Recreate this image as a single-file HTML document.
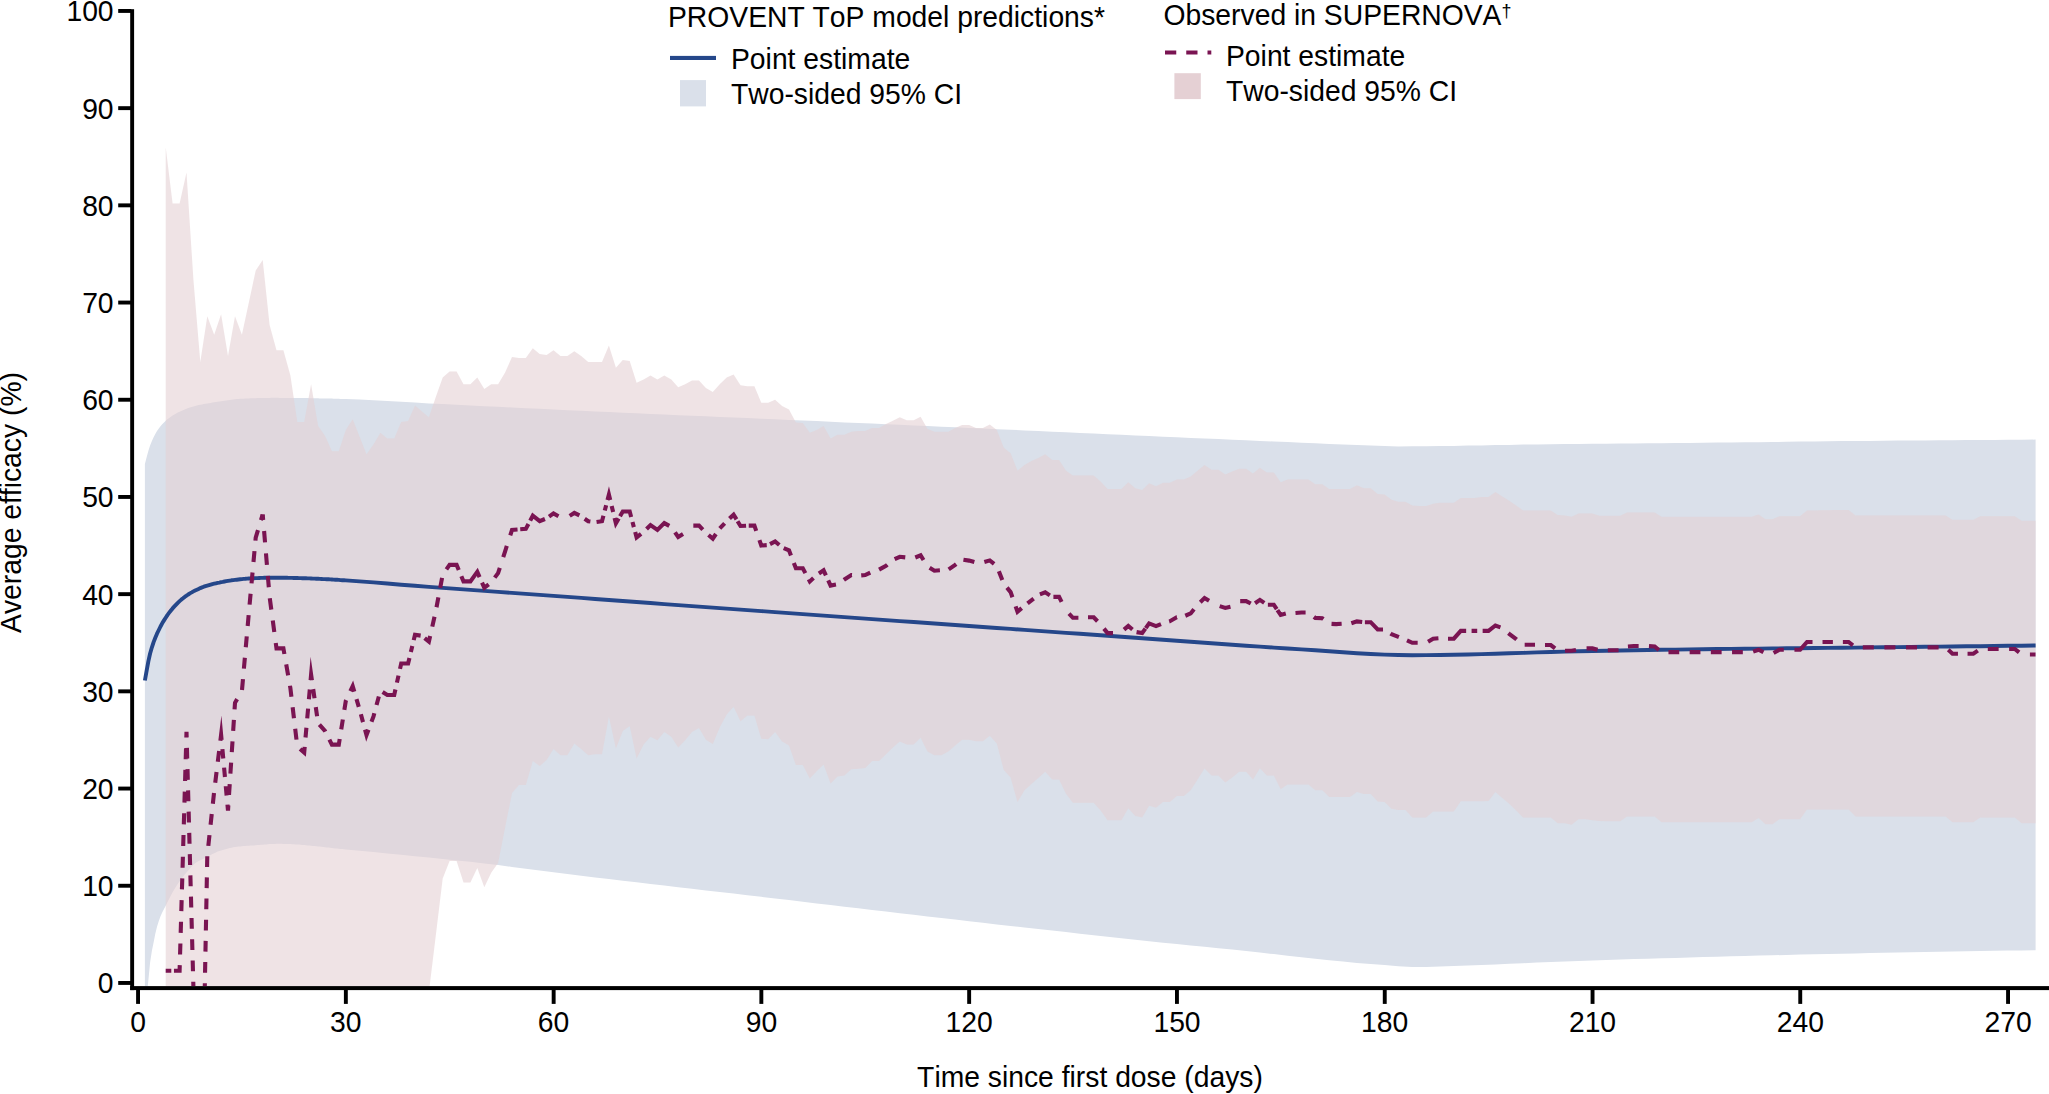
<!DOCTYPE html>
<html><head><meta charset="utf-8"><title>Average efficacy over time</title>
<style>
html,body{margin:0;padding:0;background:#fff}
svg{display:block}
text{font-kerning:none;font-family:"Liberation Sans",sans-serif;font-size:28.3px;fill:#000}
</style></head><body>
<svg width="2049" height="1094" viewBox="0 0 2049 1094">
<defs><clipPath id="plot"><rect x="134.1" y="0" width="1914.9" height="986.1"/></clipPath></defs>
<rect width="2049" height="1094" fill="#fff"/>
<g clip-path="url(#plot)">
<polygon points="144.9,463.9 146.7,456.9 148.4,450.7 150.1,445.4 151.9,441.1 153.6,437.2 155.3,433.9 157,431 158.8,428.4 160.5,426.2 162.2,424.2 164,422.4 165.7,420.8 167.4,419.3 169.2,418 170.9,416.8 172.6,415.6 174.4,414.5 176.1,413.5 177.8,412.6 179.6,411.8 181.3,411 183,410.2 184.7,409.5 186.5,408.8 188.2,408.1 189.9,407.5 191.7,407 193.4,406.4 195.1,406 196.9,405.5 198.6,405.1 200.3,404.7 202.1,404.4 203.8,404.1 205.5,403.7 207.3,403.4 209,403.2 210.7,402.9 212.4,402.6 214.2,402.3 215.9,402.1 217.6,401.8 219.4,401.6 221.1,401.3 222.8,401 224.6,400.7 226.3,400.5 228,400.2 229.8,399.9 231.5,399.7 233.2,399.5 235,399.3 236.7,399.1 238.4,398.9 240.2,398.8 241.9,398.7 243.6,398.7 245.3,398.6 247.1,398.5 248.8,398.4 250.5,398.3 252.3,398.3 254,398.2 255.7,398.2 257.5,398.1 259.2,398 260.9,398 262.7,398 264.4,397.9 266.1,397.9 267.9,397.9 269.6,397.9 271.3,397.8 273,397.8 274.8,397.8 276.5,397.8 278.2,397.8 280,397.9 281.7,397.9 283.4,397.9 285.2,397.9 286.9,397.9 288.6,397.9 290.4,397.9 292.1,398 293.8,398 295.6,398 297.3,398 299,398 300.7,398.1 302.5,398.1 304.2,398.1 305.9,398.1 307.7,398.1 309.4,398.2 311.1,398.2 312.9,398.2 314.6,398.3 316.3,398.3 318.1,398.3 319.8,398.4 321.5,398.4 323.3,398.4 325,398.5 326.7,398.5 328.5,398.6 330.2,398.6 331.9,398.6 333.6,398.7 335.4,398.7 337.1,398.8 338.8,398.8 340.6,398.9 342.3,398.9 344,399 345.8,399 359.6,399.5 373.5,400.2 387.3,400.9 401.2,401.8 415,402.6 428.9,403.4 442.7,404.1 456.6,404.8 470.4,405.5 484.3,406.2 498.1,406.8 512,407.5 525.8,408.2 539.7,408.8 553.5,409.5 567.4,410.2 581.2,410.8 595.1,411.4 608.9,412.1 622.8,412.7 636.6,413.3 650.5,413.9 664.3,414.5 678.2,415.2 692,415.8 705.9,416.3 719.7,416.9 733.6,417.5 747.4,418.1 761.3,418.7 775.1,419.3 789,419.9 802.8,420.5 816.7,421.1 830.6,421.8 844.4,422.4 858.3,423 872.1,423.6 886,424.2 899.8,424.8 913.7,425.4 927.5,426 941.4,426.7 955.2,427.3 969.1,427.9 982.9,428.5 996.8,429.2 1010.6,429.8 1024.5,430.4 1038.3,431 1052.2,431.7 1066,432.3 1079.9,432.9 1093.7,433.6 1107.6,434.2 1121.4,434.8 1135.3,435.4 1149.1,436.1 1163,436.7 1176.8,437.3 1190.7,437.9 1204.5,438.5 1218.4,439.1 1232.2,439.7 1246.1,440.3 1259.9,440.9 1273.8,441.5 1287.6,442.1 1301.5,442.7 1315.3,443.3 1329.2,443.9 1343,444.4 1356.9,444.9 1370.7,445.6 1384.6,446.1 1398.4,446.4 1412.3,446.3 1426.1,446.2 1440,446.1 1453.8,445.9 1467.7,445.6 1481.5,445.4 1495.4,445.1 1509.2,444.9 1523.1,444.6 1537,444.5 1550.8,444.3 1564.7,444.1 1578.5,444 1592.4,443.8 1606.2,443.7 1620.1,443.6 1633.9,443.4 1647.8,443.3 1661.6,443.2 1675.5,443.1 1689.3,442.9 1703.2,442.8 1717,442.6 1730.9,442.5 1744.7,442.3 1758.6,442.2 1772.4,442 1786.3,441.8 1800.1,441.6 1814,441.5 1827.8,441.3 1841.7,441.1 1855.5,441 1869.4,440.9 1883.2,440.7 1897.1,440.6 1910.9,440.5 1924.8,440.4 1938.6,440.3 1952.5,440.2 1966.3,440 1980.2,439.9 1994,439.9 2007.9,439.8 2021.7,439.7 2035.6,439.6 2035.6,950.2 2021.7,950.4 2007.9,950.6 1994,950.8 1980.2,951 1966.3,951.3 1952.5,951.5 1938.6,951.7 1924.8,952 1910.9,952.3 1897.1,952.5 1883.2,952.8 1869.4,953.1 1855.5,953.4 1841.7,953.7 1827.8,954 1814,954.3 1800.1,954.6 1786.3,954.9 1772.4,955.3 1758.6,955.6 1744.7,956 1730.9,956.3 1717,956.7 1703.2,957.1 1689.3,957.5 1675.5,957.9 1661.6,958.3 1647.8,958.7 1633.9,959.1 1620.1,959.5 1606.2,960 1592.4,960.5 1578.5,960.9 1564.7,961.5 1550.8,962 1537,962.6 1523.1,963.2 1509.2,963.8 1495.4,964.4 1481.5,965 1467.7,965.5 1453.8,966 1440,966.5 1426.1,966.9 1412.3,967 1398.4,966.2 1384.6,965.1 1370.7,964.1 1356.9,962.9 1343,961.6 1329.2,960.2 1315.3,958.8 1301.5,957.3 1287.6,955.8 1273.8,954.1 1259.9,952.4 1246.1,950.9 1232.2,949.5 1218.4,948.2 1204.5,946.8 1190.7,945.5 1176.8,944.1 1163,942.7 1149.1,941.2 1135.3,939.7 1121.4,938.2 1107.6,936.7 1093.7,935.2 1079.9,933.7 1066,932.1 1052.2,930.6 1038.3,929.1 1024.5,927.5 1010.6,925.9 996.8,924.4 982.9,922.8 969.1,921.2 955.2,919.6 941.4,918 927.5,916.5 913.7,914.8 899.8,913.2 886,911.6 872.1,910 858.3,908.3 844.4,906.7 830.6,905.1 816.7,903.4 802.8,901.8 789,900.1 775.1,898.5 761.3,896.8 747.4,895.2 733.6,893.6 719.7,892 705.9,890.4 692,888.8 678.2,887.2 664.3,885.6 650.5,884 636.6,882.3 622.8,880.7 608.9,879.1 595.1,877.4 581.2,875.7 567.4,874 553.5,872.3 539.7,870.5 525.8,868.7 512,866.9 498.1,865 484.3,863.4 470.4,861.8 456.6,860.4 442.7,859 428.9,857.6 415,856.2 401.2,854.8 387.3,853.4 373.5,852.1 359.6,850.8 345.8,849.5 344,849.3 342.3,849.1 340.6,848.9 338.8,848.7 337.1,848.6 335.4,848.4 333.6,848.2 331.9,848 330.2,847.8 328.5,847.6 326.7,847.4 325,847.2 323.3,847 321.5,846.8 319.8,846.6 318.1,846.4 316.3,846.2 314.6,846.1 312.9,845.9 311.1,845.7 309.4,845.5 307.7,845.4 305.9,845.2 304.2,845.1 302.5,844.9 300.7,844.8 299,844.6 297.3,844.5 295.6,844.4 293.8,844.3 292.1,844.2 290.4,844.1 288.6,844 286.9,844 285.2,843.9 283.4,843.9 281.7,843.8 280,843.8 278.2,843.8 276.5,843.8 274.8,843.9 273,843.9 271.3,844 269.6,844.1 267.9,844.2 266.1,844.4 264.4,844.5 262.7,844.7 260.9,844.8 259.2,844.9 257.5,845.1 255.7,845.2 254,845.4 252.3,845.5 250.5,845.6 248.8,845.7 247.1,845.8 245.3,846 243.6,846.1 241.9,846.2 240.2,846.4 238.4,846.5 236.7,846.7 235,847 233.2,847.3 231.5,847.7 229.8,848.1 228,848.5 226.3,848.9 224.6,849.4 222.8,849.9 221.1,850.4 219.4,851 217.6,851.6 215.9,852.4 214.2,853.2 212.4,854 210.7,854.9 209,855.8 207.3,856.7 205.5,857.7 203.8,858.6 202.1,859.5 200.3,860.3 198.6,861.1 196.9,862.1 195.1,863.3 193.4,864.8 191.7,866.5 189.9,868.4 188.2,870.4 186.5,872.5 184.7,874.6 183,876.8 181.3,878.9 179.6,881.2 177.8,883.7 176.1,886.4 174.4,889.2 172.6,892.2 170.9,895.4 169.2,898.8 167.4,902.3 165.7,905.8 164,909.1 162.2,912.4 160.5,916.3 158.8,921.1 157,926.7 155.3,933.7 153.6,942.4 151.9,950.7 150.1,962.5 148.4,980 146.7,996.2 144.9,1010.7" fill="#dae0ea"/>
<polygon points="165.7,147.3 172.6,203.6 179.6,203.6 186.5,172.5 193.4,279.4 200.3,361.9 207.3,316.3 214.2,334.7 221.1,314.3 228,356.1 235,316.3 241.9,334.7 248.8,302.7 255.7,270.6 262.7,259.9 269.6,325 276.5,350.2 283.4,350.2 290.4,375.5 297.3,422.1 304.2,422.1 311.1,384.2 318.1,426 325,435.7 331.9,451.3 338.8,451.3 345.8,429.9 352.7,419.2 359.6,436.7 366.5,454.2 373.5,444.5 380.4,432.8 387.3,438.6 394.2,438.6 401.2,422.1 408.1,421.1 415,405.6 421.9,411.4 428.9,417.3 435.8,396.9 442.7,377.4 449.6,371.6 456.6,371.6 463.5,384.2 470.4,384.2 477.3,377.4 484.3,389.1 491.2,384.2 498.1,384.2 505.1,372.6 512,357 518.9,358 525.8,358 532.8,348.3 539.7,354.1 546.6,355.1 553.5,350.2 560.5,356.1 567.4,356.1 574.3,351.2 581.2,356.1 588.2,361.9 595.1,361.9 602,361.9 608.9,345.4 615.9,367.7 622.8,360 629.7,360.9 636.6,382.8 643.6,379.4 650.5,375.5 657.4,379.4 664.3,375.5 671.3,379.4 678.2,387.2 685.1,384.2 692,380.4 699,380.4 705.9,388.1 712.8,392 719.7,384.2 726.7,377.4 733.6,374.5 740.5,385.2 747.4,386.2 754.4,386.2 761.3,402.7 768.2,402.7 775.1,399.8 782.1,406.1 789,409.5 795.9,422.6 802.8,423.1 809.8,432.8 816.7,429.9 823.6,426 830.6,438.6 837.5,434.7 844.4,434.7 851.3,431.8 858.3,430.9 865.2,430.9 872.1,427.9 879,427.9 886,424.1 892.9,420.7 899.8,417.3 906.7,420.2 913.7,420.2 920.6,416.8 927.5,428.9 934.4,431.8 941.4,431.8 948.3,431.8 955.2,427.9 962.1,425 969.1,425 976,427.9 982.9,427.9 989.8,424.5 996.8,429.9 1003.7,447.4 1010.6,453.2 1017.5,470.7 1024.5,464.9 1031.4,461 1038.3,458.1 1045.2,454.2 1052.2,460 1059.1,460 1066,470.7 1072.9,475.5 1079.9,475.5 1086.8,475.5 1093.7,475.5 1100.6,481.4 1107.6,489.1 1114.5,489.1 1121.4,489.1 1128.3,482.3 1135.3,488.2 1142.2,490.1 1149.1,483.3 1156,486.2 1163,482.8 1169.9,482.8 1176.8,479.4 1183.8,479.4 1190.7,476.5 1197.6,470.7 1204.5,464.9 1211.5,469.7 1218.4,469.7 1225.3,474.6 1232.2,471.6 1239.2,468.7 1246.1,468.7 1253,473.6 1259.9,467.8 1266.9,472.6 1273.8,472.6 1280.7,482.3 1287.6,479.4 1294.6,479.4 1301.5,479.4 1308.4,479.4 1315.3,484.3 1322.3,484.3 1329.2,489.1 1336.1,489.1 1343,489.1 1350,489.1 1356.9,485.2 1363.8,488.2 1370.7,488.2 1377.7,494 1384.6,494.5 1391.5,499.8 1398.4,501.8 1405.4,501.8 1412.3,505.6 1419.2,506.1 1426.1,506.1 1433.1,503.7 1440,502.7 1446.9,502.7 1453.8,502.7 1460.8,497.9 1467.7,497.9 1474.6,497.9 1481.5,496.9 1488.5,496.9 1495.4,492 1502.3,496.4 1509.2,500.8 1516.2,505.6 1523.1,510.5 1530,510.5 1537,510.5 1543.9,510.5 1550.8,510.5 1557.7,514.9 1564.7,515.4 1571.6,516.8 1578.5,513.4 1585.4,513.4 1592.4,513.4 1599.3,515.8 1606.2,515.8 1613.1,515.8 1620.1,515.8 1627,512.4 1633.9,512.4 1640.8,512.4 1647.8,512.4 1654.7,512.4 1661.6,516.8 1668.5,516.8 1675.5,516.8 1682.4,516.8 1689.3,516.8 1696.2,516.8 1703.2,516.8 1710.1,516.8 1717,516.8 1723.9,516.8 1730.9,516.8 1737.8,516.8 1744.7,516.8 1751.6,516.8 1758.6,514.4 1765.5,519.2 1772.4,519.2 1779.3,516.3 1786.3,516.3 1793.2,516.3 1800.1,516.3 1807,510.5 1814,510.5 1820.9,510.3 1827.8,510.2 1834.7,510 1841.7,510 1848.6,510 1855.5,515.4 1862.4,515.4 1869.4,515.4 1876.3,515.4 1883.2,515.4 1890.2,515.4 1897.1,515.4 1904,515.4 1910.9,515.4 1917.9,515.4 1924.8,515.4 1931.7,515.4 1938.6,515.4 1945.6,515.4 1952.5,519.7 1959.4,519.7 1966.3,519.7 1973.3,519.7 1980.2,516.3 1987.1,516.3 1994,516.3 2001,516.3 2007.9,516.3 2014.8,516.3 2021.7,520.7 2028.7,520.7 2035.6,520.7 2035.6,823.2 2028.7,823.2 2021.7,823.2 2014.8,817.4 2007.9,817.4 2001,817.4 1994,817.4 1987.1,817.4 1980.2,817.4 1973.3,822.3 1966.3,822.3 1959.4,822.3 1952.5,822.3 1945.6,816.4 1938.6,816.4 1931.7,816.4 1924.8,816.4 1917.9,816.4 1910.9,816.4 1904,816.4 1897.1,816.4 1890.2,816.4 1883.2,816.4 1876.3,816.4 1869.4,816.4 1862.4,816.4 1855.5,816.4 1848.6,809.6 1841.7,809.6 1834.7,809.6 1827.8,809.6 1820.9,809.6 1814,809.6 1807,809.6 1800.1,819.3 1793.2,819.3 1786.3,819.3 1779.3,819.3 1772.4,824.2 1765.5,824.2 1758.6,817.9 1751.6,822.3 1744.7,822.3 1737.8,822.3 1730.9,822.3 1723.9,822.3 1717,822.3 1710.1,822.3 1703.2,822.3 1696.2,822.3 1689.3,822.3 1682.4,822.3 1675.5,822.3 1668.5,822.3 1661.6,822.3 1654.7,816.4 1647.8,816.4 1640.8,816.4 1633.9,816.4 1627,816.4 1620.1,821.3 1613.1,821.3 1606.2,821.3 1599.3,820.9 1592.4,820.3 1585.4,819.3 1578.5,819.3 1571.6,824.7 1564.7,823.2 1557.7,823.2 1550.8,817.4 1543.9,817.4 1537,817.4 1530,817.4 1523.1,817.4 1516.2,810.6 1509.2,803.8 1502.3,798 1495.4,792.1 1488.5,800.9 1481.5,801.2 1474.6,801.2 1467.7,801.2 1460.8,801.2 1453.8,811.6 1446.9,811.6 1440,811.6 1433.1,811.6 1426.1,817.4 1419.2,817.4 1412.3,817.4 1405.4,810.1 1398.4,810.1 1391.5,808.7 1384.6,801.9 1377.7,801.5 1370.7,794.1 1363.8,794.1 1356.9,792.1 1350,797 1343,797 1336.1,797 1329.2,797 1322.3,790.2 1315.3,790.2 1308.4,784.4 1301.5,784.4 1294.6,784.4 1287.6,784.4 1280.7,789.2 1273.8,775.6 1266.9,775.6 1259.9,768.3 1253,779.5 1246.1,771.7 1239.2,771.7 1232.2,777.6 1225.3,782.4 1218.4,775.6 1211.5,775.6 1204.5,768.4 1197.6,779.5 1190.7,790.2 1183.8,796 1176.8,796 1169.9,801.9 1163,801.9 1156,807.7 1149.1,805.7 1142.2,817.6 1135.3,815.9 1128.3,808.2 1121.4,820.3 1114.5,820.3 1107.6,820.3 1100.6,810.6 1093.7,802.8 1086.8,802.8 1079.9,802.8 1072.9,802.8 1066,793.7 1059.1,779.5 1052.2,779.5 1045.2,771.7 1038.3,778.1 1031.4,783.9 1024.5,790.2 1017.5,801.9 1010.6,777.6 1003.7,769.8 996.8,743.6 989.8,735.8 982.9,741.2 976,741.2 969.1,739.7 962.1,739.7 955.2,745.5 948.3,751.4 941.4,755.2 934.4,755.2 927.5,751.4 920.6,737.8 913.7,744.6 906.7,744.6 899.8,741.6 892.9,747.5 886,754.3 879,761.1 872.1,761.1 865.2,768.1 858.3,768.8 851.3,769.2 844.4,775.6 837.5,776.6 830.6,783.4 823.6,764.5 816.7,771.3 809.8,778.5 802.8,765 795.9,765 789,745.5 782.1,741.6 775.1,731.9 768.2,739.2 761.3,738.7 754.4,715.4 747.4,715.4 740.5,721.2 733.6,706.7 726.7,714.4 719.7,727.5 712.8,744.1 705.9,739.7 699,728 692,731.9 685.1,740.2 678.2,747.5 671.3,736.8 664.3,731.9 657.4,740.2 650.5,736.8 643.6,744.6 636.6,758.6 629.7,726.1 622.8,731 615.9,748.4 608.9,716.4 602,754.3 595.1,754.3 588.2,755.2 581.2,748.9 574.3,743.6 567.4,755.2 560.5,755.2 553.5,748.9 546.6,760.1 539.7,765.9 532.8,761.1 525.8,784.9 518.9,784.9 512,793.1 505.1,827.6 498.1,863 491.2,872.8 484.3,887.3 477.3,867.9 470.4,882.5 463.5,882.5 456.6,861.1 449.6,861.1 442.7,878.6 435.8,935.4 428.9,992.2 421.9,992.2 415,992.2 408.1,992.2 401.2,992.2 394.2,992.2 387.3,992.2 380.4,992.2 373.5,992.2 366.5,992.2 359.6,992.2 352.7,992.2 345.8,992.2 338.8,992.2 331.9,992.2 325,992.2 318.1,992.2 311.1,992.2 304.2,992.2 297.3,992.2 290.4,992.2 283.4,992.2 276.5,992.2 269.6,992.2 262.7,992.2 255.7,992.2 248.8,992.2 241.9,992.2 235,992.2 228,992.2 221.1,992.2 214.2,992.2 207.3,992.2 200.3,992.2 193.4,992.2 186.5,992.2 179.6,992.2 172.6,992.2 165.7,992.2" fill="#e5d0d4" fill-opacity="0.6"/>
<path d="M144.9,680.5 L146.7,670.4 L148.4,661.2 L150.1,653.5 L151.9,647.3 L153.6,642.1 L155.3,637.7 L157,633.7 L158.8,630 L160.5,626.5 L162.2,623.3 L164,620.4 L165.7,617.7 L167.4,615.1 L169.2,612.7 L170.9,610.5 L172.6,608.4 L174.4,606.4 L176.1,604.6 L177.8,602.8 L179.6,601.1 L181.3,599.6 L183,598.3 L184.7,596.9 L186.5,595.7 L188.2,594.5 L189.9,593.4 L191.7,592.4 L193.4,591.4 L195.1,590.5 L196.9,589.7 L198.6,588.9 L200.3,588.1 L202.1,587.4 L203.8,586.7 L205.5,586.1 L207.3,585.6 L209,585.1 L210.7,584.6 L212.4,584.1 L214.2,583.7 L215.9,583.3 L217.6,582.9 L219.4,582.6 L221.1,582.2 L222.8,581.9 L224.6,581.5 L226.3,581.2 L228,580.9 L229.8,580.6 L231.5,580.3 L233.2,580.1 L235,579.9 L236.7,579.7 L238.4,579.5 L240.2,579.3 L241.9,579.1 L243.6,578.9 L245.3,578.8 L247.1,578.6 L248.8,578.5 L250.5,578.4 L252.3,578.3 L254,578.2 L255.7,578.1 L257.5,578.1 L259.2,578 L260.9,577.9 L262.7,577.9 L264.4,577.8 L266.1,577.8 L267.9,577.7 L269.6,577.7 L271.3,577.7 L273,577.7 L274.8,577.7 L276.5,577.7 L278.2,577.7 L280,577.8 L281.7,577.8 L283.4,577.8 L285.2,577.8 L286.9,577.8 L288.6,577.9 L290.4,577.9 L292.1,577.9 L293.8,578 L295.6,578 L297.3,578 L299,578.1 L300.7,578.1 L302.5,578.2 L304.2,578.2 L305.9,578.3 L307.7,578.4 L309.4,578.4 L311.1,578.5 L312.9,578.6 L314.6,578.6 L316.3,578.7 L318.1,578.8 L319.8,578.9 L321.5,579 L323.3,579.1 L325,579.1 L326.7,579.2 L328.5,579.3 L330.2,579.4 L331.9,579.5 L333.6,579.6 L335.4,579.7 L337.1,579.8 L338.8,579.9 L340.6,580.1 L342.3,580.2 L344,580.3 L345.8,580.4 L359.6,581.4 L373.5,582.4 L387.3,583.5 L401.2,584.7 L415,585.8 L428.9,586.9 L442.7,587.9 L456.6,588.9 L470.4,589.9 L484.3,590.9 L498.1,591.9 L512,592.9 L525.8,593.9 L539.7,594.9 L553.5,595.9 L567.4,596.9 L581.2,597.9 L595.1,599 L608.9,600 L622.8,601 L636.6,602 L650.5,603 L664.3,604.1 L678.2,605.1 L692,606.1 L705.9,607.1 L719.7,608.1 L733.6,609.1 L747.4,610.1 L761.3,611.1 L775.1,612.1 L789,613.1 L802.8,614.1 L816.7,615.1 L830.6,616.1 L844.4,617.1 L858.3,618.1 L872.1,619.1 L886,620.1 L899.8,621.1 L913.7,622 L927.5,623 L941.4,624 L955.2,625 L969.1,626 L982.9,627 L996.8,628 L1010.6,628.9 L1024.5,629.9 L1038.3,630.9 L1052.2,631.9 L1066,632.9 L1079.9,633.8 L1093.7,634.8 L1107.6,635.8 L1121.4,636.8 L1135.3,637.8 L1149.1,638.8 L1163,639.8 L1176.8,640.8 L1190.7,641.8 L1204.5,642.8 L1218.4,643.7 L1232.2,644.7 L1246.1,645.7 L1259.9,646.6 L1273.8,647.6 L1287.6,648.5 L1301.5,649.4 L1315.3,650.3 L1329.2,651.3 L1343,652.3 L1356.9,653.2 L1370.7,654 L1384.6,654.6 L1398.4,655 L1412.3,655.2 L1426.1,655.1 L1440,655 L1453.8,654.8 L1467.7,654.5 L1481.5,654.1 L1495.4,653.7 L1509.2,653.3 L1523.1,652.9 L1537,652.4 L1550.8,652 L1564.7,651.6 L1578.5,651.3 L1592.4,651 L1606.2,650.8 L1620.1,650.5 L1633.9,650.3 L1647.8,650 L1661.6,649.8 L1675.5,649.6 L1689.3,649.4 L1703.2,649.2 L1717,649 L1730.9,648.9 L1744.7,648.7 L1758.6,648.6 L1772.4,648.4 L1786.3,648.3 L1800.1,648.2 L1814,648 L1827.8,647.9 L1841.7,647.7 L1855.5,647.6 L1869.4,647.4 L1883.2,647.3 L1897.1,647.1 L1910.9,647 L1924.8,646.8 L1938.6,646.6 L1952.5,646.5 L1966.3,646.3 L1980.2,646.2 L1994,646 L2007.9,645.8 L2021.7,645.7 L2035.6,645.5" fill="none" stroke="#25478a" stroke-width="3.9" stroke-linejoin="round"/>
<path d="M165.7,970.7 L172.6,970.7 L179.6,970.7 L186.5,731.9 L193.4,986.9 L200.3,1221.4 L207.3,855.3 L214.2,791.2 L221.1,734.8 L228,810.6 L235,702.8 L241.9,691.1 L248.8,613.4 L255.7,537.7 L262.7,514.4" fill="none" stroke="#7a1452" stroke-width="4.1" stroke-dasharray="5.6 2.65 11.2 10.65 11.05 10.65 11.05 10.65 11.05 10.65 11.05 10.65 11.05 10.65 11.05 10.65 11.05 10.65 11.05 10.65 11.05 10.65 11.05 10.65 11.2 10.44 10.83 10.44 10.83 10.44 10.83 10.44 10.83 10.44 10.83 10.44 10.83 10.44 10.83 10.44 10.83 10.44 10.83 10.44 10.83 10.44 10.83 10.44 10.83 10.44 10.83 10.44 10.83 10.44 10.83 10.44 10.83 10.44 10.83 10.44 10.83 10.44 10.83 10.44 10.83 10.44 10.83 10.44 10.83 10.44 11.2 10.39 10.78 10.39 10.78 10.39 10.78 10.39 10.78 10.39 10.78 10.39 10.78 10.39 10.78 10.39 10.78 10.39 10.78 10.39 10.78 10.39 10.78 10.39 10.78 10.39 10.78 10.39 10.78 10.39 10.78 10.39 10.78 10.39 10.78 10.39 10.78 10.39 10.78 10.39 10.78 10.39 10.78 10.39 10.78 10.39 11.2 9.12 9.46 9.12 9.46 9.12 9.46 9.12 11.2 10.51 10.9 10.51 10.9 10.51 10.9 10.51 10.9 10.51 10.9 10.51 10.9 10.51 10.9 10.51 10.9 10.51 10.9 10.51 10.9 10.51 10.9 10.51 10.9 10.51 10.9 10.51 5.6 99999" stroke-linejoin="miter" stroke-miterlimit="10"/>
<path d="M262.7,514.4 L269.6,596.9 L276.5,648.4 L283.4,648.4 L290.4,688.2 L297.3,746.5 L304.2,752.6 L311.1,674.6 L318.1,723.2 L325,731 L331.9,744.6 L338.8,744.6 L345.8,700.9 L352.7,686.2 L359.6,709.6 L366.5,735 L373.5,716.4 L380.4,690.7 L387.3,695 L394.2,695 L401.2,663.5 L408.1,663.5 L415,634.8 L421.9,635.8 L428.9,641.6 L435.8,611 L442.7,574.6 L449.6,564.9 L456.6,564.9 L463.5,581.4 L470.4,581.4 L477.3,571.9 L484.3,587.8 L491.2,582.4 L498.1,573.1 L505.1,551.3 L512,529.9 L518.9,529.4 L525.8,528.9 L532.8,515.7 L539.7,521.2 L546.6,518.3 L553.5,513.4 L560.5,517.3 L567.4,517.3 L574.3,512.9 L581.2,516.3 L588.2,521.2 L595.1,522.2 L602,521.2 L608.9,494.6 L615.9,523.4 L622.8,511.5 L629.7,511.5 L636.6,537.4 L643.6,531.9 L650.5,525.1 L657.4,529.9 L664.3,523.1 L671.3,527 L678.2,536.9 L685.1,532.8 L692,525.6 L699,525.6 L705.9,532.8 L712.8,538.6 L719.7,528.5 L726.7,521.2 L733.6,514.7 L740.5,526 L747.4,525.6 L754.4,525.6 L761.3,545.5 L768.2,545 L775.1,541.5 L782.1,547.4 L789,550.3 L795.9,568.3 L802.8,568.3 L809.8,581.4 L816.7,575 L823.6,570.3 L830.6,585.6 L837.5,584.3 L844.4,579.5 L851.3,575 L858.3,575.6 L865.2,575 L872.1,571.7 L879,569.7 L886,565.9 L892.9,560 L899.8,556.8 L906.7,557.5 L913.7,558.1 L920.6,555.4 L927.5,566.3 L934.4,570.7 L941.4,570.2 L948.3,569.7 L955.2,564.9 L962.1,559.5 L969.1,560.6 L976,562.5 L982.9,562.5 L989.8,560.4 L996.8,565.9 L1003.7,583.6 L1010.6,592.1 L1017.5,611.7 L1024.5,605.7 L1031.4,600.3 L1038.3,595 L1045.2,592.4 L1052.2,596.9 L1059.1,596.9 L1066,610.5 L1072.9,617.8 L1079.9,617.8 L1086.8,617.3 L1093.7,617.3 L1100.6,624.5 L1107.6,633.1 L1114.5,633.1 L1121.4,631.9 L1128.3,625.9 L1135.3,631.9 L1142.2,633.1 L1149.1,623.4 L1156,626.1 L1163,623.2 L1169.9,621.2 L1176.8,617.3 L1183.8,616.4 L1190.7,613.4 L1197.6,604.7 L1204.5,598.1 L1211.5,602.3 L1218.4,605.7 L1225.3,607.9 L1232.2,606.3 L1239.2,601.1 L1246.1,601.1 L1253,604.7 L1259.9,599.9 L1266.9,604.7 L1273.8,604.7 L1280.7,615 L1287.6,613.1 L1294.6,613 L1301.5,612.5 L1308.4,612.5 L1315.3,617.9 L1322.3,618.3 L1329.2,623.7 L1336.1,624.1 L1343,623.7 L1350,623.7 L1356.9,621.4 L1363.8,622.2 L1370.7,622.2 L1377.7,629.5 L1384.6,629.5 L1391.5,634.2 L1398.4,636.8 L1405.4,639.7 L1412.3,642.8 L1419.2,642.8 L1426.1,642.8 L1433.1,638.7 L1440,638.2 L1446.9,638.7 L1453.8,638.7 L1460.8,630.9 L1467.7,630.9 L1474.6,630.9 L1481.5,630.9 L1488.5,630.9 L1495.4,625.5 L1502.3,628 L1509.2,633.8 L1516.2,639.2 L1523.1,644.8 L1530,644.8 L1537,644.8 L1543.9,645 L1550.8,645 L1557.7,650.3 L1564.7,650.8 L1571.6,650.8 L1578.5,649.4 L1585.4,648.4 L1592.4,648.4 L1599.3,650.3 L1606.2,650.3 L1613.1,650.3 L1620.1,650.3 L1627,646.5 L1633.9,646 L1640.8,646 L1647.8,646 L1654.7,646.5 L1661.6,652.3 L1668.5,652.1 L1675.5,652.1 L1682.4,652.1 L1689.3,652.1 L1696.2,652.1 L1703.2,652.1 L1710.1,652.1 L1717,652.1 L1723.9,652.1 L1730.9,652.1 L1737.8,652.1 L1744.7,652.1 L1751.6,652.1 L1758.6,649.7 L1765.5,653.3 L1772.4,653.7 L1779.3,649.8 L1786.3,649.8 L1793.2,649.8 L1800.1,649.8 L1807,642 L1814,642 L1820.9,642 L1827.8,642 L1834.7,642 L1841.7,642 L1848.6,642 L1855.5,647.4 L1862.4,647.4 L1869.4,647.4 L1876.3,647.4 L1883.2,647.4 L1890.2,647.4 L1897.1,647.4 L1904,647.4 L1910.9,647.4 L1917.9,647.4 L1924.8,647.4 L1931.7,647.4 L1938.6,647.4 L1945.6,647.4 L1952.5,653.7 L1959.4,653.7 L1966.3,653.7 L1973.3,653.7 L1980.2,649 L1987.1,649 L1994,649 L2001,649 L2007.9,649 L2014.8,649 L2021.7,654.5 L2028.7,654.5 L2035.6,654.5" fill="none" stroke="#7a1452" stroke-width="4.1" stroke-dasharray="5.6 11.05 11.46 11.05 11.46 11.05 11.46 11.05 11.46 11.05 11.46 11.05 18.13 10.62 11.01 10.62 11.01 10.62 11.01 10.62 11.01 10.62 11.2 9.44 9.79 9.44 9.79 9.44 9.79 9.44 11.2 8.93 9.26 8.93 9.26 8.93 9.26 8.93 18.13 9.71 10.07 9.71 10.07 9.71 11.2 7.78 8.07 7.78 8.07 7.78 11.2 8.56 8.88 8.56 8.88 8.56 18.13 6.95 7.21 6.95 18.13 6.02 6.24 6.02 11.2 4.82 11.2 9.72 10.08 9.72 10.08 9.72 10.08 9.72 18.13 6.7 29.87 6.1 11.2 9.12 11.2 11.26 11.67 11.26 11.2 2.69 11.2 3.78 20.05 4.77 11.2 11.9 11.2 6.25 6.48 6.25 11.2 5.34 5.54 5.34 11.2 6.06 6.28 6.06 11.2 2.62 18.13 5.14 5.33 5.14 11.2 7.34 29.36 8.78 11.2 13.71 11.2 7.81 11.2 6.79 7.04 6.79 11.2 2.07 11.2 2.66 11.2 9.79 11.2 3.49 11.2 5.41 11.2 8.06 18.13 7.06 7.32 7.06 11.2 5.59 11.2 9.27 9.62 9.27 9.62 9.27 9.62 9.27 11.2 10.14 11.2 9.94 11.2 8.86 9.19 8.86 11.2 10.11 11.2 9.09 9.43 9.09 11.2 9.64 11.2 7.53 7.81 7.53 11.2 3.99 11.2 14.11 11.2 9.59 11.2 9.78 11.2 11.93 11.2 5 11.2 0.65 18.61 8.55 8.86 8.55 11.2 9.49 11.2 11.86 11.2 11.48 11.2 5.02 11.2 4.15 11.2 1.2 11.2 9.77 10.13 9.77 10.13 9.77 10.13 9.77 11.2 2.7 21.25 8.76 9.08 8.76 11.2 10.69 11.2 9.61 21.61 5.43 5.63 5.43 20 9.97 10.34 9.97 10.34 9.97 11.2 10.67 11.07 10.67 11.2 10.34 10.72 10.34 10.72 10.34 11.2 10.41 10.79 10.41 10.79 10.41 10.79 10.41 10.79 10.41 11.2 10.64 11.03 10.64 21.61 9.99 10.36 9.99 11.2 10.6 11 10.6 11 10.6 11 10.6 11 10.6 11.2 9.58 11.2 10.48 10.87 10.48 11.2 11.52 5.6 99999" stroke-linejoin="miter" stroke-miterlimit="10"/>

</g>

<rect x="130.2" y="9.2" width="3.9" height="980.9" fill="#000"/>
<rect x="130.2" y="986.1" width="1918.8" height="4" fill="#000"/>
<rect x="118.2" y="981" width="13" height="3.9" fill="#000"/>
<text transform="translate(113.6,993.4) scale(1,1.05)" text-anchor="end">0</text>
<rect x="118.2" y="883.8" width="13" height="3.9" fill="#000"/>
<text transform="translate(113.6,896.2) scale(1,1.05)" text-anchor="end">10</text>
<rect x="118.2" y="786.6" width="13" height="3.9" fill="#000"/>
<text transform="translate(113.6,799) scale(1,1.05)" text-anchor="end">20</text>
<rect x="118.2" y="689.4" width="13" height="3.9" fill="#000"/>
<text transform="translate(113.6,701.8) scale(1,1.05)" text-anchor="end">30</text>
<rect x="118.2" y="592.2" width="13" height="3.9" fill="#000"/>
<text transform="translate(113.6,604.6) scale(1,1.05)" text-anchor="end">40</text>
<rect x="118.2" y="495" width="13" height="3.9" fill="#000"/>
<text transform="translate(113.6,507.4) scale(1,1.05)" text-anchor="end">50</text>
<rect x="118.2" y="397.8" width="13" height="3.9" fill="#000"/>
<text transform="translate(113.6,410.2) scale(1,1.05)" text-anchor="end">60</text>
<rect x="118.2" y="300.6" width="13" height="3.9" fill="#000"/>
<text transform="translate(113.6,313) scale(1,1.05)" text-anchor="end">70</text>
<rect x="118.2" y="203.4" width="13" height="3.9" fill="#000"/>
<text transform="translate(113.6,215.8) scale(1,1.05)" text-anchor="end">80</text>
<rect x="118.2" y="106.2" width="13" height="3.9" fill="#000"/>
<text transform="translate(113.6,118.6) scale(1,1.05)" text-anchor="end">90</text>
<rect x="118.2" y="9" width="13" height="3.9" fill="#000"/>
<text transform="translate(113.6,21.4) scale(1,1.05)" text-anchor="end">100</text>
<rect x="136.1" y="989" width="3.9" height="14.9" fill="#000"/>
<text transform="translate(138.1,1032) scale(1,1.05)" text-anchor="middle">0</text>
<rect x="343.9" y="989" width="3.9" height="14.9" fill="#000"/>
<text transform="translate(345.8,1032) scale(1,1.05)" text-anchor="middle">30</text>
<rect x="551.7" y="989" width="3.9" height="14.9" fill="#000"/>
<text transform="translate(553.6,1032) scale(1,1.05)" text-anchor="middle">60</text>
<rect x="759.4" y="989" width="3.9" height="14.9" fill="#000"/>
<text transform="translate(761.4,1032) scale(1,1.05)" text-anchor="middle">90</text>
<rect x="967.2" y="989" width="3.9" height="14.9" fill="#000"/>
<text transform="translate(969.2,1032) scale(1,1.05)" text-anchor="middle">120</text>
<rect x="1175" y="989" width="3.9" height="14.9" fill="#000"/>
<text transform="translate(1177,1032) scale(1,1.05)" text-anchor="middle">150</text>
<rect x="1382.8" y="989" width="3.9" height="14.9" fill="#000"/>
<text transform="translate(1384.7,1032) scale(1,1.05)" text-anchor="middle">180</text>
<rect x="1590.6" y="989" width="3.9" height="14.9" fill="#000"/>
<text transform="translate(1592.5,1032) scale(1,1.05)" text-anchor="middle">210</text>
<rect x="1798.3" y="989" width="3.9" height="14.9" fill="#000"/>
<text transform="translate(1800.3,1032) scale(1,1.05)" text-anchor="middle">240</text>
<rect x="2006.1" y="989" width="3.9" height="14.9" fill="#000"/>
<text transform="translate(2008.1,1032) scale(1,1.05)" text-anchor="middle">270</text>
<text transform="translate(1090,1087) scale(1,1.05)" text-anchor="middle">Time since first dose (days)</text>
<text transform="translate(21,502.5) rotate(-90) scale(1,1.05)" text-anchor="middle">Average efficacy (%)</text>
<text transform="translate(668,26.9) scale(1,1.05)" text-anchor="start">PROVENT ToP model predictions*</text>
<rect x="670" y="55.9" width="46" height="4.1" fill="#25478a"/>
<text transform="translate(731,68.8) scale(1,1.05)" text-anchor="start">Point estimate</text>
<rect x="680" y="80.1" width="26" height="26.3" fill="#dae0ea"/>
<text transform="translate(731,103.8) scale(1,1.05)" text-anchor="start">Two-sided 95% CI</text>
<text transform="translate(1163.5,25) scale(1,1.05)" text-anchor="start">Observed in SUPERNOVA<tspan font-size="18" dy="-7.5">†</tspan></text>
<path d="M1165,52.5 H1211.3" stroke="#7a1452" stroke-width="4" stroke-dasharray="11.25 10" fill="none"/>
<text transform="translate(1226,65.5) scale(1,1.05)" text-anchor="start">Point estimate</text>
<rect x="1174.4" y="73.2" width="26.4" height="25.9" fill="#e5d0d4"/>
<text transform="translate(1226,100.5) scale(1,1.05)" text-anchor="start">Two-sided 95% CI</text>
</svg></body></html>
